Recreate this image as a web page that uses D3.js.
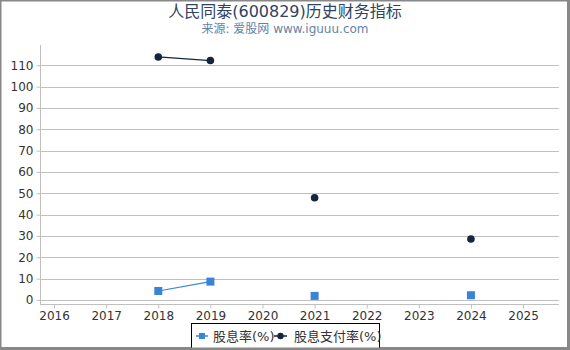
<!DOCTYPE html>
<html><head><meta charset="utf-8">
<script src="https://cdn.jsdelivr.net/npm/d3@7"></script>
<style>html,body{margin:0;padding:0;background:#fff;}svg{display:block;}</style>
</head><body><svg id="c" width="570" height="350"></svg>
<script>
const years = [2016,2017,2018,2019,2020,2021,2022,2023,2024,2025];
const dividendYield = [null,null,4.2,8.6,null,1.9,null,null,2.2,null];
const payoutRatio = [null,null,113.9,112.2,null,47.9,null,null,28.6,null];
const yTicks = [0,10,20,30,40,50,60,70,80,90,100,110];
const seriesNames = ["股息率(%)","股息支付率(%)"];
const title = "人民同泰(600829)历史财务指标";
const subtitle = "来源: 爱股网 www.iguuu.com";

const svg = d3.select("#c");
const font = "'DejaVu Sans','Noto Sans CJK SC',sans-serif";
const x = d3.scaleLinear().domain([2015.73, 2025.69]).range([40, 559]);
const y = d3.scaleLinear().domain([-1.9, 119.5]).range([304, 45]);

// border
svg.append("rect").attr("x",0.75).attr("y",0.75).attr("width",567).attr("height",347)
  .attr("fill","none").attr("stroke","#888").attr("stroke-width",1.5);
svg.append("rect").attr("x",567).attr("y",0).attr("width",3).attr("height",350).attr("fill","#888");
svg.append("rect").attr("x",0).attr("y",347.5).attr("width",570).attr("height",2.5).attr("fill","#888");

// title
svg.append("text").attr("x",285).attr("y",17).attr("text-anchor","middle")
  .attr("font-family",font).attr("font-size",16).attr("fill","#2e4462").text(title);
svg.append("text").attr("x",285).attr("y",33).attr("text-anchor","middle")
  .attr("font-family",font).attr("font-size",12).attr("fill","#6583a8").text(subtitle);

// grid
svg.append("g").selectAll("line").data(yTicks).join("line")
  .attr("x1",41).attr("x2",559).attr("y1",d=>Math.round(y(d))+0.5).attr("y2",d=>Math.round(y(d))+0.5)
  .attr("stroke","#c0c0c0").attr("stroke-width",1);

// y axis
const ya = svg.append("g").attr("transform","translate(40.5,0)")
  .call(d3.axisLeft(y).tickValues(yTicks).tickSize(4).tickPadding(3));
ya.select(".domain").attr("d","M0,45V304").attr("stroke","#c0c0c0");
ya.selectAll(".tick line").attr("stroke","#c0c0c0");
ya.selectAll("text").attr("font-family",font).attr("font-size",12).attr("fill","#333");

// x axis
const xa = svg.append("g").attr("transform","translate(0,304.5)")
  .call(d3.axisBottom(x).tickValues(years).tickFormat(d3.format("d")).tickSize(4).tickPadding(3));
xa.select(".domain").attr("d","M40,0H559").attr("stroke","#c0c0c0");
xa.selectAll(".tick line").attr("stroke","#c0c0c0");
xa.selectAll("text").attr("font-family",font).attr("font-size",12).attr("fill","#333");

const blue = "#3a84d8", navy = "#14253f";
function drawSeries(vals, color, shape) {
  const data = years.map((yr,i)=>({yr, v: vals[i]}));
  const line = d3.line().defined(d=>d.v!=null).x(d=>x(d.yr)).y(d=>y(d.v));
  svg.append("path").datum(data).attr("d",line).attr("fill","none").attr("stroke",color).attr("stroke-width",1.2);
  const pts = data.filter(d=>d.v!=null);
  if (shape==="square") {
    svg.append("g").selectAll("rect").data(pts).join("rect")
      .attr("x",d=>x(d.yr)-4).attr("y",d=>y(d.v)-4).attr("width",8).attr("height",8).attr("fill",color);
  } else {
    svg.append("g").selectAll("circle").data(pts).join("circle")
      .attr("cx",d=>x(d.yr)).attr("cy",d=>y(d.v)).attr("r",3.8).attr("fill",color);
  }
}
drawSeries(dividendYield, blue, "square");
drawSeries(payoutRatio, navy, "circle");

// legend
const lg = svg.append("g");
lg.append("rect").attr("x",191.5).attr("y",323.5).attr("width",188).attr("height",26)
  .attr("fill","#fff").attr("stroke","#000").attr("stroke-width",1);
lg.append("line").attr("x1",196).attr("x2",208).attr("y1",336).attr("y2",336).attr("stroke",blue).attr("stroke-width",1.5);
lg.append("rect").attr("x",199).attr("y",333).attr("width",6).attr("height",6).attr("fill",blue);
lg.append("text").attr("x",213).attr("y",340.5).attr("font-family",font).attr("font-size",13).attr("fill","#333").text(seriesNames[0]);
lg.append("line").attr("x1",274).attr("x2",287).attr("y1",336).attr("y2",336).attr("stroke",navy).attr("stroke-width",1.5);
lg.append("circle").attr("cx",280.5).attr("cy",336).attr("r",3.2).attr("fill",navy);
lg.append("text").attr("x",294).attr("y",340.5).attr("font-family",font).attr("font-size",13).attr("fill","#333").text(seriesNames[1]);
// redraw bottom border over legend
svg.append("rect").attr("x",0).attr("y",347.5).attr("width",570).attr("height",2.5).attr("fill","#888");
</script></body></html>
